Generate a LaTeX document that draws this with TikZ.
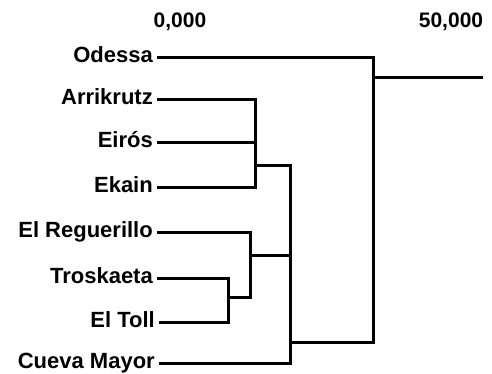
\documentclass[tikz,border=0pt]{standalone}
\usepackage{fontspec}
\setmainfont{Liberation Sans}
\usetikzlibrary{positioning}

\tikzset{
  leaf/.style={anchor=base east, inner xsep=4pt, inner ysep=0pt,
    font=\fontsize{22}{26}\selectfont\bfseries},
  scalelabel/.style={font=\fontsize{21}{25}\selectfont\bfseries},
  branch/.style={line width=3pt, line cap=butt}
}

\begin{document}
\begin{tikzpicture}[x=1pt, y=-1pt]
  \useasboundingbox (0,0) rectangle (492,374);
  % scale
  \node[scalelabel] (zero) at (180,22) {0,000};
  \node[scalelabel] (fifty) at (451,22) {50,000};
  % leaves (baseline 5pt below the branch)
  \node[leaf] (odessa) at (157,63) {Odessa};
  \node[leaf] (arrikrutz) at (157,105) {Arrikrutz};
  \node[leaf] (eiros) at (157,148) {Eirós};
  \node[leaf] (ekain) at (157,192) {Ekain};
  \node[leaf] (reguerillo) at (157,237) {El Reguerillo};
  \node[leaf] (troskaeta) at (157,283) {Troskaeta};
  \node[leaf] (toll) at (159,327) {El Toll};
  \node[leaf] (cueva) at (159,368) {Cueva Mayor};
  % joins
  \coordinate (k1) at (255,166);
  \coordinate (k2) at (228,297);
  \coordinate (k3) at (250,255);
  \coordinate (k4) at (290,342);
  \coordinate (k5) at (373,78);
  \coordinate (root) at (483,78);
  % branches
  \draw[branch] ([yshift=5pt]arrikrutz.base east) -| (k1);
  \draw[branch] ([yshift=5pt]ekain.base east) -| (k1);
  \draw[branch] ([yshift=5pt]eiros.base east) -- ([yshift=5pt]eiros.base east -| k1);
  \draw[branch] ([yshift=5pt]troskaeta.base east) -| (k2);
  \draw[branch] ([yshift=5pt]toll.base east) -| (k2);
  \draw[branch] ([yshift=5pt]reguerillo.base east) -| (k3);
  \draw[branch] (k2) -| (k3);
  \draw[branch] (k1) -| (k4);
  \draw[branch] (k3) -| (k4);
  \draw[branch] ([yshift=5pt]cueva.base east) -| (k4);
  \draw[branch] ([yshift=5pt]odessa.base east) -| (k5);
  \draw[branch] (k4) -| (k5);
  \draw[branch] (k5) -- (root);
\end{tikzpicture}
\end{document}
